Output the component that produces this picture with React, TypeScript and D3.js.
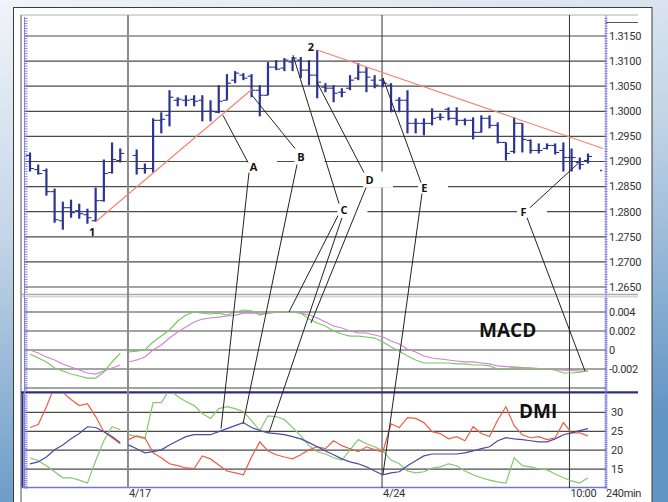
import React from "react";
import * as d3 from "d3";

const W = 668;
const H = 502;

// ---------- price bars (240min) ----------
const opens: (number | null)[] = [1.2912, 1.2884, 1.2882, 1.2840, 1.2782, 1.2808, 1.2802, 1.2794, 1.2782, 1.2822, 1.2878, 1.2902, null, 1.2912, 1.2886, 1.2886, 1.2982, 1.2992, 1.3022, 1.3022, 1.3024, 1.3022, 1.3000, 1.2998, 1.3022, 1.3062, 1.3072, 1.3070, 1.3042, 1.3032, 1.3088, 1.3086, 1.3098, 1.3102, 1.3082, 1.3072, 1.3048, 1.3046, 1.3038, 1.3046, 1.3066, 1.3078, 1.3062, 1.3062, 1.3052, 1.3022, 1.3022, 1.2976, 1.2976, 1.2976, 1.2988, 1.3004, 1.2986, 1.2982, 1.2982, 1.2958, 1.2986, 1.2972, 1.2938, 1.2920, 1.2976, 1.2942, 1.2922, 1.2926, 1.2932, 1.2922, 1.2908, 1.2898, 1.2902];
const highs: (number | null)[] = [1.2918, 1.2894, 1.2886, 1.2846, 1.2820, 1.2824, 1.2816, 1.2806, 1.2848, 1.2904, 1.2938, 1.2926, null, 1.2924, 1.2896, 1.2986, 1.2998, 1.3042, 1.3028, 1.3032, 1.3032, 1.3032, 1.3022, 1.3052, 1.3074, 1.3080, 1.3076, 1.3074, 1.3052, 1.3098, 1.3102, 1.3106, 1.3108, 1.3108, 1.3102, 1.3122, 1.3056, 1.3052, 1.3046, 1.3072, 1.3096, 1.3088, 1.3072, 1.3066, 1.3056, 1.3028, 1.3042, 1.2986, 1.2986, 1.3006, 1.2996, 1.3008, 1.3008, 1.2986, 1.2988, 1.2992, 1.2992, 1.2978, 1.2938, 1.2988, 1.2976, 1.2944, 1.2936, 1.2936, 1.2936, 1.2938, 1.2926, 1.2908, 1.2916];
const lows: (number | null)[] = [1.2880, 1.2874, 1.2832, 1.2778, 1.2764, 1.2788, 1.2786, 1.2776, 1.2780, 1.2820, 1.2876, 1.2898, null, 1.2874, 1.2876, 1.2878, 1.2956, 1.2970, 1.3010, 1.3010, 1.3010, 1.2980, 1.2980, 1.2996, 1.3022, 1.3056, 1.3062, 1.3028, 1.2990, 1.3032, 1.3082, 1.3080, 1.3080, 1.3066, 1.3052, 1.3026, 1.3038, 1.3018, 1.3028, 1.3042, 1.3062, 1.3038, 1.3046, 1.3048, 1.2998, 1.2998, 1.2956, 1.2956, 1.2952, 1.2972, 1.2982, 1.2982, 1.2972, 1.2972, 1.2944, 1.2958, 1.2966, 1.2936, 1.2902, 1.2916, 1.2918, 1.2916, 1.2916, 1.2924, 1.2914, 1.2880, 1.2880, 1.2884, 1.2896];
const closes: (number | null)[] = [1.2886, 1.2876, 1.2840, 1.2784, 1.2808, 1.2798, 1.2796, 1.2788, 1.2822, 1.2876, 1.2904, 1.2916, null, 1.2886, 1.2886, 1.2982, 1.2984, 1.3028, 1.3024, 1.3022, 1.3020, 1.3000, 1.3000, 1.3020, 1.3056, 1.3076, 1.3066, 1.3042, 1.3032, 1.3088, 1.3084, 1.3102, 1.3106, 1.3082, 1.3072, 1.3058, 1.3046, 1.3036, 1.3038, 1.3062, 1.3078, 1.3068, 1.3052, 1.3056, 1.3002, 1.3022, 1.2976, 1.2976, 1.2976, 1.2986, 1.2988, 1.2986, 1.2982, 1.2982, 1.2958, 1.2986, 1.2972, 1.2938, 1.2916, 1.2976, 1.2944, 1.2922, 1.2922, 1.2932, 1.2918, 1.2908, 1.2908, 1.2894, 1.2910];
const lastPriceMark = { i: 69.6, p: 1.2882 };

// ---------- MACD ----------
const macdLine = [-0.00042, -0.00084, -0.00126, -0.00189, -0.00221, -0.00253, -0.00274, -0.00295, -0.00295, -0.00232, -0.00126, -0.00032, -0.00021, -0.00011, 0.0, 0.00084, 0.00147, 0.00211, 0.00305, 0.00368, 0.004, 0.00389, 0.00379, 0.00389, 0.00368, 0.004, 0.00421, 0.00411, 0.00368, 0.00389, 0.004, 0.004, 0.004, 0.00389, 0.00326, 0.00284, 0.00253, 0.002, 0.00168, 0.00147, 0.00147, 0.00137, 0.00126, 0.00084, 0.00032, -0.00011, -0.00063, -0.00105, -0.00137, -0.00137, -0.00137, -0.00137, -0.00147, -0.00147, -0.00158, -0.00158, -0.00168, -0.002, -0.002, -0.00179, -0.00189, -0.002, -0.002, -0.002, -0.00211, -0.00242, -0.00242, -0.00232, -0.00221];
const signalLine = [0.0, -0.00032, -0.00074, -0.00105, -0.00147, -0.00179, -0.00211, -0.00242, -0.00253, -0.00221, -0.00189, -0.00158, -0.00126, -0.00105, -0.00074, 0.0, 0.00053, 0.00126, 0.00189, 0.00242, 0.00295, 0.00326, 0.00337, 0.00347, 0.00358, 0.00368, 0.00389, 0.00389, 0.00389, 0.00389, 0.00395, 0.004, 0.004, 0.00389, 0.00368, 0.00337, 0.00295, 0.00253, 0.00232, 0.002, 0.00179, 0.00179, 0.00158, 0.00137, 0.00095, 0.00063, 0.00011, -0.00021, -0.00063, -0.00084, -0.00095, -0.00105, -0.00116, -0.00126, -0.00126, -0.00137, -0.00147, -0.00168, -0.00174, -0.00179, -0.00184, -0.00189, -0.00195, -0.002, -0.00205, -0.00211, -0.00216, -0.00221, -0.00221];

// ---------- DMI ----------
const plusDI = [26.0, 26.8, 31.5, 36.9, 35.3, 33.4, 31.8, 32.3, 28.9, 24.9, 23.3, 21.7, 22.8, 23.8, 23.3, 19.3, 18.0, 16.4, 15.9, 15.3, 15.1, 18.5, 17.7, 16.1, 14.5, 14.0, 13.5, 18.2, 22.2, 19.8, 18.8, 18.2, 17.7, 18.8, 20.1, 20.9, 20.4, 22.5, 21.2, 20.4, 19.6, 20.9, 20.1, 19.6, 27.0, 26.0, 28.6, 28.4, 27.3, 24.9, 24.4, 23.0, 23.6, 22.5, 26.2, 24.4, 23.6, 28.0, 31.5, 26.5, 24.1, 23.3, 23.6, 22.8, 23.3, 27.3, 24.6, 24.6, 23.8];
const minusDI = [18.0, 17.2, 15.9, 14.3, 12.7, 12.7, 12.1, 11.3, 17.2, 22.5, 26.2, 25.4, 24.1, 23.6, 23.0, 32.6, 32.6, 36.0, 34.2, 32.9, 31.8, 29.7, 28.4, 31.0, 31.5, 31.0, 30.2, 27.8, 25.2, 29.1, 28.9, 28.1, 26.0, 23.8, 21.2, 19.6, 19.0, 18.0, 17.4, 20.1, 22.8, 21.7, 20.9, 19.8, 17.4, 16.4, 14.5, 14.0, 14.3, 15.3, 15.6, 16.4, 15.9, 14.5, 13.5, 12.7, 12.1, 11.6, 11.3, 18.0, 15.9, 15.6, 15.1, 14.8, 13.7, 12.7, 11.9, 11.3, 12.7];
const adx = [16.4, 16.9, 18.2, 20.1, 21.4, 23.0, 24.4, 26.2, 26.0, 24.9, 23.6, 22.0, 21.4, 20.4, 19.3, 19.6, 20.1, 21.4, 22.5, 23.6, 24.1, 24.1, 24.1, 24.9, 25.7, 26.5, 27.3, 26.0, 25.2, 24.6, 24.4, 24.1, 23.6, 23.0, 22.0, 20.9, 19.8, 18.8, 17.7, 16.9, 16.4, 15.6, 14.5, 13.5, 14.0, 14.3, 15.9, 17.2, 18.5, 19.0, 19.0, 19.0, 19.0, 19.3, 19.8, 20.4, 20.9, 22.5, 23.3, 23.0, 22.8, 22.5, 22.2, 22.2, 23.0, 24.1, 24.6, 25.2, 25.7];

// sessions (indicator lines break at the 4/17 day boundary)
const sessionStarts = [0, 12];

// ---------- axes ----------
const priceTicks = [1.315, 1.31, 1.305, 1.3, 1.295, 1.29, 1.285, 1.28, 1.275, 1.27, 1.265];
const macdTicks = [0.004, 0.002, 0, -0.002, -0.004];
const macdTickLabels = ["0.004", "0.002", "0", "-0.002", ""];
const dmiTicks = [30, 25, 20, 15];
const dayLabels = ["4/17", "4/24", "10:00"];
const dayPositions = [11.94, 42.9, 65.74];
const dayStyles = ["light", "dark", "dark"];
const intervalLabel = "240min";

// ---------- annotations ----------
const trendLines = [
  [{ i: 8, p: 1.278 }, { i: 27.05, p: 1.3044 }],
  [{ i: 35, p: 1.3122 }, { i: 69.83, p: 1.2926 }],
];
const pivotLabels = [
  { text: "1", i: 7.56, p: 1.276 },
  { text: "2", i: 34.24, p: 1.3128 },
];
const annoLabels = [
  { text: "A", i: 27.24, p: 1.2888 },
  { text: "B", i: 33.02, p: 1.2908 },
  { text: "C", i: 38.26, p: 1.2803 },
  { text: "D", i: 41.37, p: 1.2864 },
  { text: "E", i: 48.07, p: 1.2847 },
  { text: "F", i: 60.14, p: 1.28 },
];
type Pt = { panel: "price" | "macd" | "dmi"; i: number; v: number };
const annoLines: [Pt, Pt][] = [
  [{ panel: "price", i: 23.52, v: 1.2992 }, { panel: "price", i: 26.57, v: 1.2898 }],
  [{ panel: "price", i: 26.69, v: 1.2878 }, { panel: "dmi", i: 23.28, v: 25.7 }],
  [{ panel: "price", i: 27.05, v: 1.3032 }, { panel: "price", i: 32.29, v: 1.2926 }],
  [{ panel: "price", i: 32.54, v: 1.2894 }, { panel: "dmi", i: 25.96, v: 27.0 }],
  [{ panel: "price", i: 32.05, v: 1.3112 }, { panel: "price", i: 37.66, v: 1.2816 }],
  [{ panel: "price", i: 37.53, v: 1.2792 }, { panel: "macd", i: 31.56, v: 0.004 }],
  [{ panel: "price", i: 38.02, v: 1.2788 }, { panel: "dmi", i: 29.12, v: 24.6 }],
  [{ panel: "price", i: 34.97, v: 1.3058 }, { panel: "price", i: 40.7, v: 1.2878 }],
  [{ panel: "price", i: 40.95, v: 1.2848 }, { panel: "macd", i: 34.24, v: 0.00284 }],
  [{ panel: "price", i: 43.02, v: 1.3066 }, { panel: "price", i: 47.65, v: 1.2858 }],
  [{ panel: "price", i: 47.77, v: 1.2836 }, { panel: "dmi", i: 43.02, v: 13.7 }],
  [{ panel: "price", i: 66.78, v: 1.2896 }, { panel: "price", i: 60.93, v: 1.2808 }],
  [{ panel: "price", i: 60.57, v: 1.2788 }, { panel: "macd", i: 67.63, v: -0.00221 }],
];

// ---------- layout ----------
const LAY = {
  frameL: 21, axisL: 24.5, axisR: 606, frameR: 638,
  top: 15, priceBottom: 294, macdTop: 297, macdBottom: 391, dmiTop: 393, dmiBottom: 488,
};

const COLORS = {
  bar: "#2c3493", trend: "#f3826e", grid: "#4a4a4a", axis: "#6464d2",
  macd: "#7cc766", signal: "#cf86cf", plus: "#ef5d40", minus: "#84c86c", adx: "#4a4aa8",
  text: "#333", navy: "#2d2f86",
};

export default function App() {
  const x = d3.scaleLinear().domain([0, 68]).range([30, 588]);
  const yP = d3.scaleLinear().domain([1.265, 1.315]).range([287, 36]);
  const yM = d3.scaleLinear().domain([-0.004, 0.004]).range([388, 312]);
  const yD = d3.scaleLinear().domain([10, 35]).range([488, 393.5]);
  const sFor = (p: string) => (p === "price" ? yP : p === "macd" ? yM : yD);

  const segs = (arr: number[]) =>
    sessionStarts.map((s, k) => {
      const e = k + 1 < sessionStarts.length ? sessionStarts[k + 1] : arr.length;
      const pts = arr.slice(s, e).map((v, j) => [s + j, v] as [number, number]);
      return pts;
    });
  const lineM = d3.line<[number, number]>().x((d) => x(d[0])).y((d) => yM(d[1]));
  const lineD = d3.line<[number, number]>().x((d) => x(d[0])).y((d) => yD(d[1]));

  const priceMinor = d3.ticks(yP.invert(LAY.priceBottom), yP.invert(LAY.top + 1), 110);
  const macdMinor = d3.ticks(yM.invert(LAY.macdBottom), yM.invert(LAY.macdTop), 50);
  const dmiMinor = d3.ticks(10, yD.invert(LAY.dmiTop + 1), 50);
  const minorYs = [
    ...priceMinor.map((v) => yP(v)),
    ...macdMinor.map((v) => yM(v)),
    ...dmiMinor.map((v) => yD(v)),
  ];

  const font = "Roboto, 'Liberation Sans', sans-serif";
  const bold = "'Open Sans', 'DejaVu Sans', sans-serif";

  return (
    <svg
      width={W}
      height={H}
      style={{ position: "absolute", left: 0, top: 0, display: "block" }}
      xmlns="http://www.w3.org/2000/svg"
    >
      <defs>
        <linearGradient id="bg" x1="0" y1="0" x2="0.25" y2="1">
          <stop offset="0" stopColor="#f1f4f8" />
          <stop offset="0.45" stopColor="#c3d5e7" />
          <stop offset="1" stopColor="#6496c4" />
        </linearGradient>
        <clipPath id="dmiClip">
          <rect x={LAY.frameL} y={LAY.dmiTop} width={LAY.axisR - LAY.frameL} height={LAY.dmiBottom - LAY.dmiTop} />
        </clipPath>
      </defs>
      <rect x={0} y={0} width={W} height={H} fill="url(#bg)" />
      <rect x={13.5} y={7.5} width={638.5} height={500} fill="#fff" stroke="#3c3c3c" strokeWidth={1} />

      {/* inner frame */}
      <line x1={LAY.frameL} x2={LAY.frameR} y1={LAY.top} y2={LAY.top} stroke="#b0b0b0" strokeWidth={1} />
      <line x1={LAY.frameL} x2={LAY.frameL} y1={LAY.top} y2={H} stroke="#a8a8a8" strokeWidth={2} />
      <line x1={LAY.axisR} x2={LAY.frameR} y1={22.5} y2={22.5} stroke="#555" strokeWidth={1} />

      {/* horizontal grid */}
      {priceTicks.map((t) => (
        <line key={"pg" + t} x1={LAY.axisL} x2={LAY.axisR} y1={yP(t)} y2={yP(t)} stroke={COLORS.grid} strokeWidth={1.2} />
      ))}
      {macdTicks.map((t) => (
        <line key={"mg" + t} x1={LAY.axisL} x2={LAY.axisR} y1={yM(t)} y2={yM(t)} stroke={COLORS.grid} strokeWidth={1.2} />
      ))}
      {dmiTicks.map((t) => (
        <line key={"dg" + t} x1={LAY.axisL} x2={LAY.axisR} y1={yD(t)} y2={yD(t)} stroke={COLORS.grid} strokeWidth={1.2} />
      ))}

      {/* panel separators */}
      <line x1={LAY.frameL} x2={LAY.frameR} y1={294.5} y2={294.5} stroke="#a9a9a9" strokeWidth={1.5} />
      <line x1={LAY.frameL} x2={LAY.frameR} y1={296.8} y2={296.8} stroke="#c4c4c4" strokeWidth={1} />
      <line x1={LAY.frameL} x2={LAY.frameR} y1={392.3} y2={392.3} stroke={COLORS.navy} strokeWidth={2.2} />
      <line x1={22.5} x2={22.5} y1={392} y2={LAY.dmiBottom} stroke={COLORS.navy} strokeWidth={2} />
      <line x1={LAY.frameL} x2={LAY.axisR + 1} y1={LAY.dmiBottom - 0.5} y2={LAY.dmiBottom - 0.5} stroke="#7474d4" strokeWidth={1.3} />

      {/* vertical day lines */}
      {dayPositions.map((d, k) => (
        <line
          key={"vl" + k}
          x1={x(d)}
          x2={x(d)}
          y1={LAY.top}
          y2={LAY.dmiBottom}
          stroke={dayStyles[k] === "light" ? "#8c8c8c" : "#333"}
          strokeWidth={dayStyles[k] === "light" ? 2 : 1}
        />
      ))}

      {/* axes (minor ticks) */}
      <line x1={LAY.axisL} x2={LAY.axisL} y1={LAY.top + 2} y2={LAY.dmiBottom} stroke="#8a8ae0" strokeWidth={1} />
      <line x1={LAY.axisR} x2={LAY.axisR} y1={LAY.top} y2={LAY.dmiBottom} stroke="#8a8ae0" strokeWidth={1} />
      {minorYs.map((y, k) => (
        <g key={"mt" + k}>
          <line x1={LAY.axisL} x2={LAY.axisL + 3} y1={y} y2={y} stroke={COLORS.axis} strokeWidth={0.8} />
          <line x1={LAY.axisR - 1.5} x2={LAY.axisR + 1.5} y1={y} y2={y} stroke={COLORS.axis} strokeWidth={0.8} />
        </g>
      ))}

      {/* right axis labels */}
      <g fontFamily={font} fontSize={11} fill={COLORS.text} letterSpacing={-0.3}>
        {priceTicks.map((t) => (
          <text key={"pl" + t} x={LAY.axisR + 3} y={yP(t)} dy="0.35em">
            {t.toFixed(4)}
          </text>
        ))}
        {macdTicks.map((t, k) => (
          <text key={"ml" + t} x={LAY.axisR + 3} y={yM(t)} dy="0.35em">
            {macdTickLabels[k]}
          </text>
        ))}
        {dmiTicks.map((t) => (
          <text key={"dl" + t} x={LAY.axisR + 5} y={yD(t)} dy="0.35em">
            {t}
          </text>
        ))}
        {dayLabels.map((l, k) => (
          <text key={"xl" + k} x={x(dayPositions[k]) + 1} y={497}>
            {l}
          </text>
        ))}
        <text x={LAY.axisR} y={497}>{intervalLabel}</text>
      </g>

      {/* label boxes (mask the grid) */}
      {annoLabels.map((a) => (
        <rect key={"box" + a.text} x={x(a.i) - 6.5} y={yP(a.p) - 8} width={30} height={16} fill="#fff" />
      ))}

      {/* OHLC bars */}
      {highs.map((h, i) => {
        if (h == null) return null;
        const cx = x(i);
        return (
          <g key={"bar" + i} stroke={COLORS.bar}>
            <line x1={cx} x2={cx} y1={yP(h)} y2={yP(lows[i] as number)} strokeWidth={2.2} />
            <line x1={cx - 4} x2={cx} y1={yP(opens[i] as number)} y2={yP(opens[i] as number)} strokeWidth={1.1} />
            <line x1={cx} x2={cx + 4} y1={yP(closes[i] as number)} y2={yP(closes[i] as number)} strokeWidth={1.1} />
          </g>
        );
      })}
      <line
        x1={x(lastPriceMark.i) - 1}
        x2={x(lastPriceMark.i) + 1}
        y1={yP(lastPriceMark.p)}
        y2={yP(lastPriceMark.p)}
        stroke={COLORS.bar}
        strokeWidth={1.5}
      />

      {/* trend lines */}
      {trendLines.map((t, k) => (
        <line key={"tl" + k} x1={x(t[0].i)} y1={yP(t[0].p)} x2={x(t[1].i)} y2={yP(t[1].p)} stroke={COLORS.trend} strokeWidth={1.1} />
      ))}

      {/* MACD */}
      {segs(signalLine).map((s, k) => (
        <path key={"sig" + k} d={lineM(s) || ""} fill="none" stroke={COLORS.signal} strokeWidth={1.2} />
      ))}
      {segs(macdLine).map((s, k) => (
        <path key={"macd" + k} d={lineM(s) || ""} fill="none" stroke={COLORS.macd} strokeWidth={1.2} />
      ))}

      {/* DMI */}
      <g clipPath="url(#dmiClip)">
        {segs(minusDI).map((s, k) => (
          <path key={"mdi" + k} d={lineD(s) || ""} fill="none" stroke={COLORS.minus} strokeWidth={1.2} />
        ))}
        {segs(plusDI).map((s, k) => (
          <path key={"pdi" + k} d={lineD(s) || ""} fill="none" stroke={COLORS.plus} strokeWidth={1.2} />
        ))}
        {segs(adx).map((s, k) => (
          <path key={"adx" + k} d={lineD(s) || ""} fill="none" stroke={COLORS.adx} strokeWidth={1.2} />
        ))}
      </g>

      {/* annotation lines */}
      {annoLines.map(([a, b], k) => (
        <line
          key={"al" + k}
          x1={x(a.i)}
          y1={sFor(a.panel)(a.v)}
          x2={x(b.i)}
          y2={sFor(b.panel)(b.v)}
          stroke="#222"
          strokeWidth={1}
        />
      ))}

      {/* labels */}
      <g fontFamily={bold} fontWeight={700} fontSize={11} fill="#111" textAnchor="middle">
        {annoLabels.map((a) => (
          <text key={"lt" + a.text} x={x(a.i)} y={yP(a.p)} dy="0.36em">
            {a.text}
          </text>
        ))}
        {pivotLabels.map((a) => (
          <text key={"pv" + a.text} x={x(a.i)} y={yP(a.p)} dy="0.36em">
            {a.text}
          </text>
        ))}
      </g>
      <g fontFamily={bold} fontWeight={700} fontSize={19} fill="#111">
        <text x={479} y={337}>MACD</text>
        <text x={519} y={418}>DMI</text>
      </g>
    </svg>
  );
}
